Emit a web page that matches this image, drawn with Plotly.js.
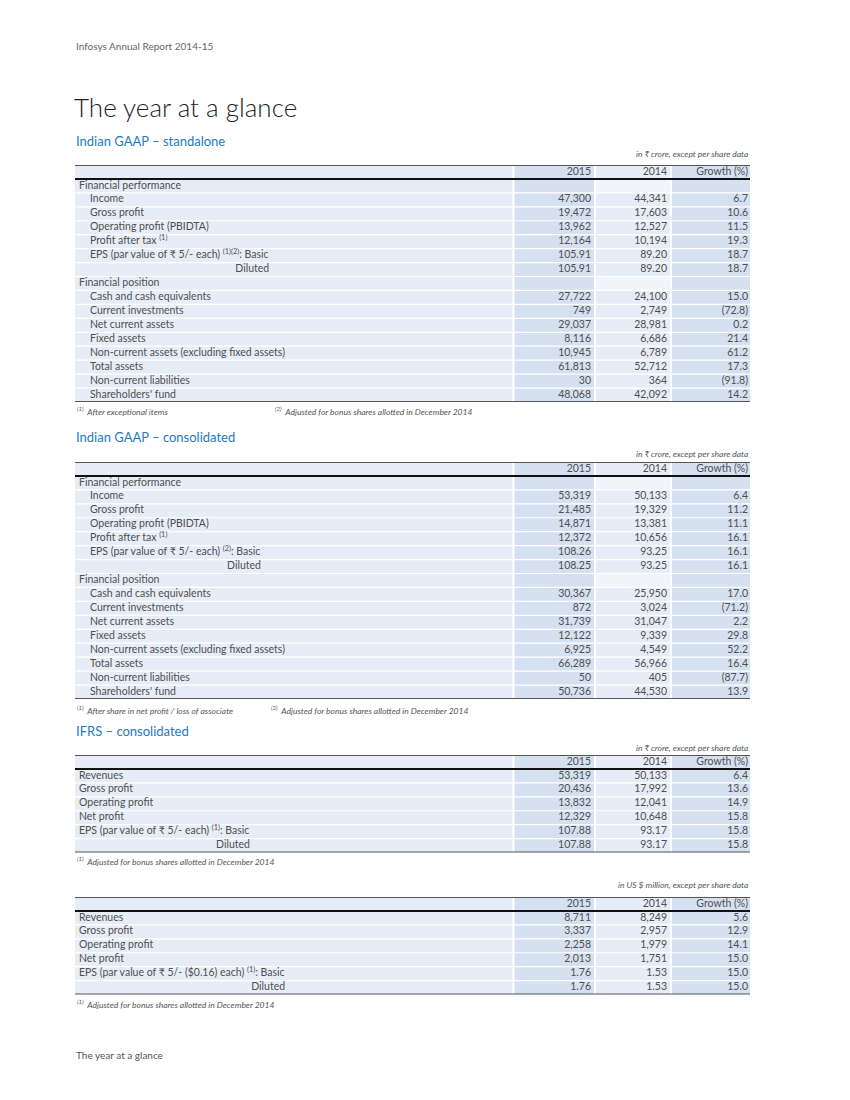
<!DOCTYPE html>
<html><head><meta charset="utf-8">
<script src="https://cdn.plot.ly/plotly-3.0.1.min.js"></script>
<style>html,body{margin:0;padding:0;background:#fff}#chart{width:850px;height:1100px}</style>
</head><body><div id="chart"></div>
<script>
// ---------------- DATA ----------------
const colHeaders = ["2015", "2014", "Growth (%)"];

const t1Labels = ["Financial performance","Income","Gross profit","Operating profit (PBIDTA)","Profit after tax <sup>(1)</sup>","EPS (par value of ₹ 5/- each) <sup>(1)(2)</sup>: Basic","Diluted","Financial position","Cash and cash equivalents","Current investments","Net current assets","Fixed assets","Non-current assets (excluding fixed assets)","Total assets","Non-current liabilities","Shareholders' fund"];
const t1Y2015 = [null,47300,19472,13962,12164,105.91,105.91,null,27722,749,29037,8116,10945,61813,30,48068];
const t1Y2014 = [null,44341,17603,12527,10194,89.20,89.20,null,24100,2749,28981,6686,6789,52712,364,42092];
const t1Growth = [null,6.7,10.6,11.5,19.3,18.7,18.7,null,15.0,-72.8,0.2,21.4,61.2,17.3,-91.8,14.2];

const t2Labels = ["Financial performance","Income","Gross profit","Operating profit (PBIDTA)","Profit after tax <sup>(1)</sup>","EPS (par value of ₹ 5/- each) <sup>(2)</sup>: Basic","Diluted","Financial position","Cash and cash equivalents","Current investments","Net current assets","Fixed assets","Non-current assets (excluding fixed assets)","Total assets","Non-current liabilities","Shareholders' fund"];
const t2Y2015 = [null,53319,21485,14871,12372,108.26,108.25,null,30367,872,31739,12122,6925,66289,50,50736];
const t2Y2014 = [null,50133,19329,13381,10656,93.25,93.25,null,25950,3024,31047,9339,4549,56966,405,44530];
const t2Growth = [null,6.4,11.2,11.1,16.1,16.1,16.1,null,17.0,-71.2,2.2,29.8,52.2,16.4,-87.7,13.9];

const t3Labels = ["Revenues","Gross profit","Operating profit","Net profit","EPS (par value of ₹ 5/- each) <sup>(1)</sup>: Basic","Diluted"];
const t3Y2015 = [53319,20436,13832,12329,107.88,107.88];
const t3Y2014 = [50133,17992,12041,10648,93.17,93.17];
const t3Growth = [6.4,13.6,14.9,15.8,15.8,15.8];

const t4Labels = ["Revenues","Gross profit","Operating profit","Net profit","EPS (par value of ₹ 5/- ($0.16) each) <sup>(1)</sup>: Basic","Diluted"];
const t4Y2015 = [8711,3337,2258,2013,1.76,1.76];
const t4Y2014 = [8249,2957,1979,1751,1.53,1.53];
const t4Growth = [5.6,12.9,14.1,15.0,15.0,15.0];

// ---------------- STYLE / LAYOUT CONFIG ----------------
const W = 850, H = 1100;
const FONT = "Lato, 'Noto Sans', 'DejaVu Sans', sans-serif";
const TXT = "#505050";
const LIGHT = "#e7edf7", DARK = "#d5e0f1", PALE = "#f1f5fb";
const BLUE = "#1b7bc3";
const PITCH = 13.94;
const FS = 10.5;
const TF = {family: FONT, size: FS, color: TXT};
// column geometry (x axis in page-pixel units)
const X0 = 75, X1 = 750;
const cols = [[75, 512.5], [514.5, 594], [596, 670], [672, 750]];
const colFill = [LIGHT, DARK, LIGHT, DARK];

const tables = [
  {labels: t1Labels, a: t1Y2015, b: t1Y2014, g: t1Growth, top: 165, indent: true},
  {labels: t2Labels, a: t2Y2015, b: t2Y2014, g: t2Growth, top: 462, indent: true},
  {labels: t3Labels, a: t3Y2015, b: t3Y2014, g: t3Growth, top: 755, indent: false},
  {labels: t4Labels, a: t4Y2015, b: t4Y2014, g: t4Growth, top: 897, indent: false}
];

function fmtVal(v) {
  return Number.isInteger(v) ? v.toLocaleString("en-US") : v.toFixed(2);
}
function fmtGrowth(v) {
  return v < 0 ? "(" + Math.abs(v).toFixed(1) + ")" : v.toFixed(1);
}
// measure label width (for right-aligning "Diluted" under "Basic")
const cv = document.createElement("canvas").getContext("2d");
function measure(html) {
  const parts = html.split(/(<sup>.*?<\/sup>)/);
  let w = 0;
  parts.forEach(p => {
    if (!p) return;
    if (p.startsWith("<sup>")) { cv.font = (FS * 0.7) + "px " + FONT; w += cv.measureText(p.replace(/<\/?sup>/g, "")).width; }
    else { cv.font = FS + "px " + FONT; w += cv.measureText(p).width; }
  });
  return w;
}

const traces = [];
const shapes = [];
const layout = {
  width: W, height: H, margin: {l: 0, r: 0, t: 0, b: 0},
  paper_bgcolor: "#fff", plot_bgcolor: "rgba(0,0,0,0)",
  showlegend: false, barmode: "overlay", hovermode: false,
  font: {family: FONT, color: TXT, size: FS},
  xaxis: {domain: [X0 / W, X1 / W], range: [X0, X1], visible: false, fixedrange: true},
  annotations: []
};

tables.forEach((t, k) => {
  const n = t.labels.length + 1; // header + rows
  const yName = k === 0 ? "y" : "y" + (k + 1);
  const axName = k === 0 ? "yaxis" : "yaxis" + (k + 1);
  const bottom = t.top + n * PITCH;
  layout[axName] = {domain: [1 - bottom / H, 1 - t.top / H], range: [n - 0.5, -0.5],
    visible: false, fixedrange: true, anchor: "x"};
  const rows = [...Array(n).keys()];
  const isSection = rows.map(i => i > 0 && t.a[i - 1] === null);

  // cell backgrounds
  cols.forEach((c, ci) => {
    traces.push({
      type: "bar", orientation: "h", xaxis: "x", yaxis: yName,
      y: rows, x: rows.map(() => c[1] - c[0]), base: rows.map(() => c[0]),
      width: 1 - 1.2 / PITCH,
      marker: {color: rows.map(i => (ci === 2 && isSection[i]) ? PALE : colFill[ci]), line: {width: 0}},
      hoverinfo: "skip"
    });
  });

  // header texts
  const valRight = [cols[1][1] - 3, cols[2][1] - 3, cols[3][1] - 2];
  colHeaders.forEach((h, ci) => {
    traces.push({type: "scatter", mode: "text", xaxis: "x", yaxis: yName, cliponaxis: false,
      x: [valRight[ci]], y: [0], text: [h], textposition: "middle left",
      textfont: TF, hoverinfo: "skip"});
  });

  // labels
  const basicIdx = t.labels.findIndex(s => s.indexOf("Basic") >= 0);
  const lx = t.labels.map((s, i) => (!t.indent || isSection[i + 1]) ? 79 : 90);
  const idx = t.labels.map((s, i) => i);
  const pIdx = idx.filter(i => t.labels[i] !== "Diluted");
  traces.push({type: "scatter", mode: "text", xaxis: "x", yaxis: yName, cliponaxis: false,
    x: pIdx.map(i => lx[i]), y: pIdx.map(i => i + 1), text: pIdx.map(i => t.labels[i]),
    textposition: "middle right", textfont: TF, hoverinfo: "skip"});
  const dIdx = idx.filter(i => t.labels[i] === "Diluted");
  const dilRight = lx[basicIdx] + measure(t.labels[basicIdx]);
  traces.push({type: "scatter", mode: "text", xaxis: "x", yaxis: yName, cliponaxis: false,
    x: dIdx.map(() => dilRight), y: dIdx.map(i => i + 1), text: dIdx.map(i => t.labels[i]),
    textposition: "middle left", textfont: TF, hoverinfo: "skip"});

  // values (skip empty section rows)
  [[t.a, fmtVal], [t.b, fmtVal], [t.g, fmtGrowth]].forEach(([arr, f], ci) => {
    const vi = idx.filter(i => arr[i] !== null);
    traces.push({type: "scatter", mode: "text", xaxis: "x", yaxis: yName, cliponaxis: false,
      x: vi.map(() => valRight[ci]), y: vi.map(i => i + 1), text: vi.map(i => f(arr[i])),
      textposition: "middle left", textfont: TF, hoverinfo: "skip"});
  });

  // rules
  shapes.push({type: "line", xref: "x", yref: yName, x0: X0, x1: X1, y0: -0.5, y1: -0.5, line: {color: "#555", width: 2}});
  shapes.push({type: "line", xref: "x", yref: yName, x0: X0, x1: X1, y0: 0.5, y1: 0.5, line: {color: "#111", width: 2}});
  shapes.push({type: "line", xref: "x", yref: yName, x0: X0, x1: X1, y0: n - 0.5, y1: n - 0.5, line: {color: "#555", width: 2}});
});
layout.shapes = shapes;

function ann(text, x, y, opts) {
  layout.annotations.push(Object.assign({
    text: text, x: x / W, y: 1 - y / H, xref: "paper", yref: "paper",
    xanchor: "left", yanchor: "middle", showarrow: false,
    font: {family: FONT, size: 11, color: TXT}
  }, opts || {}));
}
ann("Infosys Annual Report 2014-15", 74, 46, {font: {family: FONT, size: 10, color: "#666"}});
ann("The year at a glance", 72, 107, {font: {family: FONT, size: 26, color: "#222", weight: 300}});
ann("Indian GAAP – standalone", 74, 141, {font: {family: FONT, size: 13, color: BLUE}});
ann("Indian GAAP – consolidated", 74, 437, {font: {family: FONT, size: 13, color: BLUE}});
ann("IFRS – consolidated", 74, 731, {font: {family: FONT, size: 13, color: BLUE}});
const noteFont = {family: FONT, size: 8.5, color: "#555", style: "italic"};
ann("<i>in ₹ crore, except per share data</i>", 750, 154, {xanchor: "right", font: noteFont});
ann("<i>in ₹ crore, except per share data</i>", 750, 454, {xanchor: "right", font: noteFont});
ann("<i>in ₹ crore, except per share data</i>", 750, 748, {xanchor: "right", font: noteFont});
ann("<i>in US $ million, except per share data</i>", 750, 885, {xanchor: "right", font: noteFont});
ann("<i><sup>(1)</sup>  After exceptional items</i>", 75, 411, {font: noteFont});
ann("<i><sup>(2)</sup>  Adjusted for bonus shares allotted in December 2014</i>", 273, 411, {font: noteFont});
ann("<i><sup>(1)</sup>  After share in net profit / loss of associate</i>", 75, 710, {font: noteFont});
ann("<i><sup>(2)</sup>  Adjusted for bonus shares allotted in December 2014</i>", 269, 710, {font: noteFont});
ann("<i><sup>(1)</sup>  Adjusted for bonus shares allotted in December 2014</i>", 75, 861, {font: noteFont});
ann("<i><sup>(1)</sup>  Adjusted for bonus shares allotted in December 2014</i>", 75, 1004, {font: noteFont});
ann("The year at a glance", 74, 1055, {font: {family: FONT, size: 10, color: "#555"}});

Plotly.newPlot("chart", traces, layout, {staticPlot: true, displayModeBar: false});
</script>
</body></html>
